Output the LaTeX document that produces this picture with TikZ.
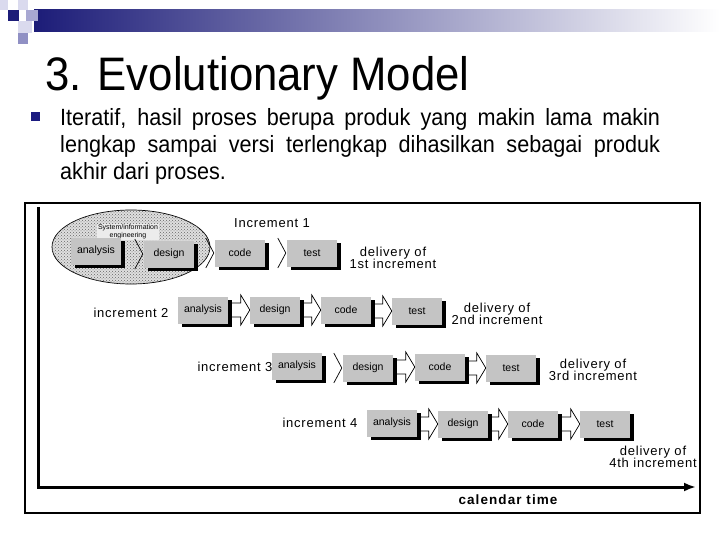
\documentclass[tikz,border=0pt]{standalone}
\usepackage{fontspec}
\usepackage{graphicx}
\setmainfont{Liberation Sans}
\newfontfamily\lblfont[LetterSpace=6]{Liberation Sans}
\newfontfamily\calfont[LetterSpace=8]{Liberation Sans}
\usetikzlibrary{shadows,arrows.meta,patterns,calc,shapes.geometric}
\definecolor{navy}{HTML}{1C1C78}
\definecolor{bulletblue}{HTML}{1C1C80}
\definecolor{lightlav}{HTML}{DADAEE}
\definecolor{midlav}{HTML}{A8A8D2}
\definecolor{deeplav}{HTML}{9090C4}
\definecolor{boxgray}{HTML}{C4C4C4}
\pgfdeclarelayer{bg}
\pgfsetlayers{bg,main}
\newcommand\barr[2]{%
  \draw[arrline] let \p1=(#1.east), \p2=(#2.west) in
    (\x1-4pt,\y2+7pt) -- (\x2-9pt,\y2+7pt) -- (\x2-9pt,\y2+15pt) -- (\x2,\y2)
    -- (\x2-9pt,\y2-15pt) -- (\x2-9pt,\y2-7pt) -- (\x1-4pt,\y2-7pt) -- cycle;}
\newcommand\chev[2]{%
  \draw[chevline] let \p1=(#1.east), \p2=(#2.west) in
    (\x2-9pt,\y2+15pt) -- (\x2-1pt,\y2) -- (\x2-9pt,\y2-15pt);}
\newcommand\narrow[1]{\scalebox{0.92}[1]{#1}}
\begin{document}
\begin{tikzpicture}[x=1pt,y=-1pt,
  stagebox/.style={fill=boxgray, minimum width=50pt, minimum height=27pt, inner sep=0pt,
    font=\fontsize{10.5}{12}\selectfont,
    drop shadow={opacity=1, fill=black, shadow xshift=4pt, shadow yshift=-3.5pt}},
  arrline/.style={draw=black, fill=white, line width=0.7pt, line join=miter},
  chevline/.style={draw=black, line width=0.7pt},
  inclabel/.style={font=\lblfont\fontsize{13}{13}\selectfont, inner sep=0pt},
  delivlabel/.style={font=\lblfont\fontsize{13}{12.5}\selectfont, align=center, inner sep=0pt},
  bodyline/.style={anchor=base west, inner sep=0pt, font=\fontsize{23.5}{27}\selectfont},
  axis/.style={line width=3pt}]
\useasboundingbox (0,0) rectangle (720,540);
\begin{pgfonlayer}{bg}
\fill[white] (0,0) rectangle (720,540);
\end{pgfonlayer}
% header
\shade[left color=navy, right color=white] (34,10) rectangle (720,32);
\fill[lightlav] (0,0) rectangle (8,10);
\fill[lightlav] (18,0) rectangle (28,10);
\fill[navy] (8,10) rectangle (19,21);
\fill[midlav] (26,10) rectangle (38,21);
\fill[lightlav] (18,21) rectangle (32,33);
\fill[deeplav] (18,33) rectangle (28,44);
% title
\node[anchor=base west, inner sep=0pt, font=\fontsize{47}{47}\selectfont] (title) at (45,91) {\scalebox{0.93}[1]{3. Evolutionary Model}};
% bullet text
\fill[bulletblue] (31,112) rectangle (40,121);
\node[bodyline] (l1) at (60,126)
  {\narrow{\hbox to 652pt{Iteratif, hasil proses berupa produk yang makin lama makin}}};
\node[bodyline] (l2) at (60,153)
  {\narrow{\hbox to 652pt{lengkap sampai versi terlengkap dihasilkan sebagai produk}}};
\node[bodyline] (l3) at (60,180)
  {\narrow{akhir dari proses.}};
% frame
\draw[line width=1.2pt] (25,203) rectangle (700,513);
\draw[line width=2.5pt] (700,203) -- (700,513);
% axes
\coordinate (ytop) at (38,207);
\coordinate (orig) at (38,487);
\coordinate (xend) at (696,487);
\draw[axis, -{Latex[length=12pt,width=9pt]}] (ytop) -- (orig) -- (xend);
\node[font=\calfont\bfseries\fontsize{13.5}{13.5}\selectfont] (cal) at (508,500) {calendar time};
% ellipse
\node[draw, ellipse, line width=0.7pt, minimum width=158pt, minimum height=74pt, fill=gray!25,
  postaction={pattern=crosshatch dots, pattern color=black!60}] (sys) at (131,247) {};
\node[font=\fontsize{7}{8}\selectfont, align=center, inner sep=1pt, fill=gray!15] (systxt) at (128,232) {System/information\\engineering};
% increment 1
\node[stagebox] (a1) at (96,251) {analysis};
\node[stagebox] (d1) at (169,254) {design};
\node[stagebox] (c1) at (240,253) {code};
\node[stagebox] (t1) at (312,253) {test};
\node[inclabel] (i1) at (272,223) {Increment 1};
\node[delivlabel] (del1) at (393,258) {delivery of\\1st increment};
% increment 2
\node[stagebox] (a2) at (203,310) {analysis};
\node[stagebox] (d2) at (275,310) {design};
\node[stagebox] (c2) at (346,310) {code};
\node[stagebox] (t2) at (417,311) {test};
\node[inclabel] (i2) at (131,313) {increment 2};
\node[delivlabel] (del2) at (497,314) {delivery of\\2nd increment};
% increment 3
\node[stagebox] (a3) at (297,366) {analysis};
\node[stagebox] (d3) at (368,368) {design};
\node[stagebox] (c3) at (440,367) {code};
\node[stagebox] (t3) at (511,368) {test};
\node[inclabel] (i3) at (235,367) {increment 3};
\node[delivlabel] (del3) at (593,370) {delivery of\\3rd increment};
% increment 4
\node[stagebox] (a4) at (392,423) {analysis};
\node[stagebox] (d4) at (463,424) {design};
\node[stagebox] (c4) at (533,424) {code};
\node[stagebox] (t4) at (605,424) {test};
\node[inclabel] (i4) at (320,423) {increment 4};
\node[delivlabel] (del4) at (653,457) {delivery of\\4th increment};
% arrows
\begin{pgfonlayer}{bg}
\barr{a2}{d2}\barr{d2}{c2}\barr{c2}{t2}
\barr{d3}{c3}\barr{c3}{t3}
\barr{a4}{d4}\barr{d4}{c4}\barr{c4}{t4}
\end{pgfonlayer}
\chev{a1}{d1}\chev{d1}{c1}\chev{c1}{t1}
\chev{a3}{d3}
\end{tikzpicture}
\end{document}
